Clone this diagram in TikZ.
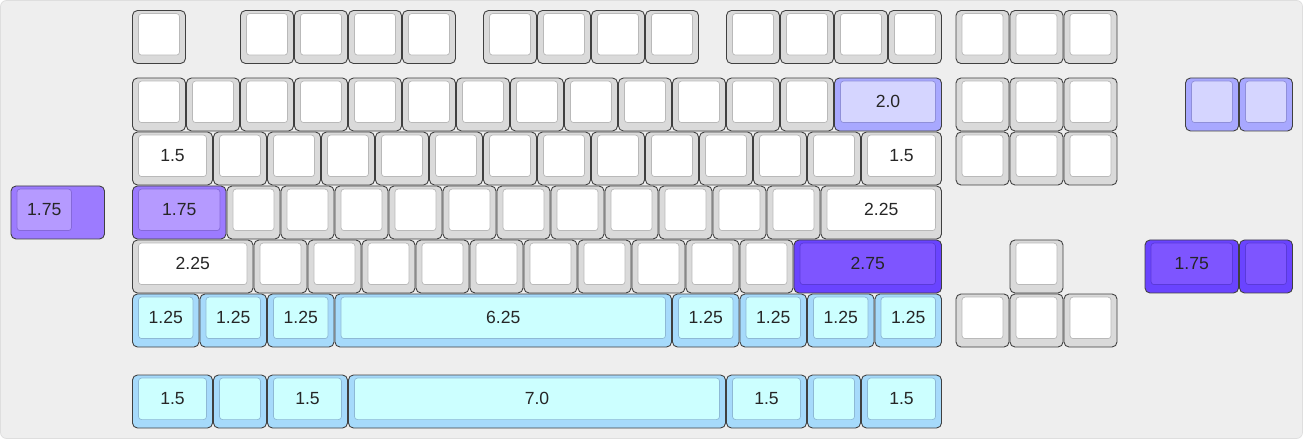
\documentclass[tikz,border=0pt]{standalone}
\usepackage{fontspec}
\setmainfont{Liberation Sans}
\definecolor{bggray}{HTML}{EEEEEE}
\definecolor{whtout}{HTML}{DADADA}
\definecolor{whtin}{HTML}{FFFFFF}
\definecolor{cyaout}{HTML}{A6DAFB}
\definecolor{cyain}{HTML}{CCFFFF}
\definecolor{lavout}{HTML}{A8A8FF}
\definecolor{lavin}{HTML}{D5D5FF}
\definecolor{mpuout}{HTML}{9C7BFF}
\definecolor{mpuin}{HTML}{B59AFF}
\definecolor{dpuout}{HTML}{6A44FF}
\definecolor{dpuin}{HTML}{7E55FF}
\newcommand{\keycap}[6]{%
  \node[keyout, fill=#5out, minimum width={(#4*54-1)*0.02cm}] (#1) at ({#2+#4/2},{#3+0.5}) {};
  \node[keyin, fill=#5in, draw=#5out!85!black, minimum width={(#4*54-13)*0.02cm}] (#1in) at ([yshift=0.053cm]#1.center) {#6};
}

\begin{document}
\begin{tikzpicture}[keyout/.style={draw=black!75, line width=0.5pt, rounded corners=0.1cm, minimum height=1.06cm, inner sep=0pt, outer sep=0pt},
  keyin/.style={line width=0.4pt, rounded corners=0.06cm, minimum height=0.83cm, inner sep=0pt, outer sep=0pt, text=black!85, font=\fontsize{10}{12}\selectfont}]
\useasboundingbox (0,0) rectangle (26.06,-8.78);
\draw[draw=black!13, fill=bggray, rounded corners=0.12cm] (0.01,-0.01) rectangle (26.05,-8.77);
\begin{scope}[x=1.08cm, y=-1.08cm, shift={(2.64cm,-0.2cm)}]
\foreach \x [count=\i] in {0,2,3,4,5,6.5,7.5,8.5,9.5,11,12,13,14,15.25,16.25,17.25}
  \keycap{fn\i}{\x}{0}{1}{wht}{};
\foreach \x [count=\i] in {0,...,12,15.25,16.25,17.25}
  \keycap{num\i}{\x}{1.25}{1}{wht}{};
\keycap{bksp}{13}{1.25}{2}{lav}{2.0}
\keycap{xa}{19.5}{1.25}{1}{lav}{}
\keycap{xb}{20.5}{1.25}{1}{lav}{}
\keycap{tab}{0}{2.25}{1.5}{wht}{1.5}
\foreach \x [count=\i] in {1.5,...,12.5,15.25,16.25,17.25}
  \keycap{top\i}{\x}{2.25}{1}{wht}{};
\keycap{bslash}{13.5}{2.25}{1.5}{wht}{1.5}
\node[keyout, fill=mpuout, minimum width={(1.75*54-1)*0.02cm}] (step) at (-1.375,3.75) {};
\node[keyin, fill=mpuin, draw=mpuout!85!black, minimum width={(1.25*54-13)*0.02cm}, anchor=west] (stepin) at ([xshift=0.12cm,yshift=0.053cm]step.west) {1.75};
\keycap{caps}{0}{3.25}{1.75}{mpu}{1.75}
\foreach \x [count=\i] in {1.75,...,11.75}
  \keycap{home\i}{\x}{3.25}{1}{wht}{};
\keycap{enter}{12.75}{3.25}{2.25}{wht}{2.25}
\keycap{lshift}{0}{4.25}{2.25}{wht}{2.25}
\foreach \x [count=\i] in {2.25,...,11.25}
  \keycap{bot\i}{\x}{4.25}{1}{wht}{};
\keycap{rshift}{12.25}{4.25}{2.75}{dpu}{2.75}
\keycap{up}{16.25}{4.25}{1}{wht}{}
\keycap{xc}{18.75}{4.25}{1.75}{dpu}{1.75}
\keycap{xd}{20.5}{4.25}{1}{dpu}{}
\foreach \x [count=\i] in {0,1.25,2.5}
  \keycap{lmod\i}{\x}{5.25}{1.25}{cya}{1.25};
\keycap{space}{3.75}{5.25}{6.25}{cya}{6.25}
\foreach \x [count=\i] in {10,11.25,12.5,13.75}
  \keycap{rmod\i}{\x}{5.25}{1.25}{cya}{1.25};
\foreach \x [count=\i] in {15.25,16.25,17.25}
  \keycap{arr\i}{\x}{5.25}{1}{wht}{};
\keycap{lctl}{0}{6.75}{1.5}{cya}{1.5}
\keycap{lwin}{1.5}{6.75}{1}{cya}{}
\keycap{lalt}{2.5}{6.75}{1.5}{cya}{1.5}
\keycap{bigspace}{4}{6.75}{7}{cya}{7.0}
\keycap{ralt}{11}{6.75}{1.5}{cya}{1.5}
\keycap{rwin}{12.5}{6.75}{1}{cya}{}
\keycap{rctl}{13.5}{6.75}{1.5}{cya}{1.5}
\end{scope}
\end{tikzpicture}
\end{document}
